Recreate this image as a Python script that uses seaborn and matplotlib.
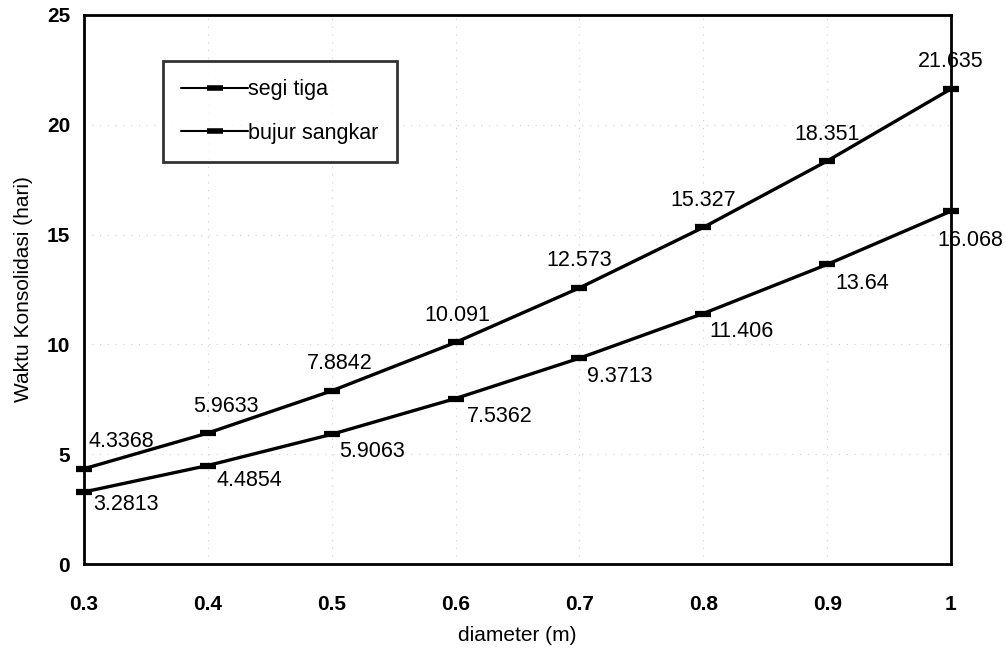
import matplotlib
matplotlib.use("Agg")
import matplotlib.pyplot as plt
import seaborn as sns
import pandas as pd

diameter = [0.3, 0.4, 0.5, 0.6, 0.7, 0.8, 0.9, 1.0]
segi_tiga = [4.3368, 5.9633, 7.8842, 10.091, 12.573, 15.327, 18.351, 21.635]
bujur_sangkar = [3.2813, 4.4854, 5.9063, 7.5362, 9.3713, 11.406, 13.64, 16.068]
segi_labels = ["4.3368", "5.9633", "7.8842", "10.091", "12.573", "15.327", "18.351", "21.635"]
bujur_labels = ["3.2813", "4.4854", "5.9063", "7.5362", "9.3713", "11.406", "13.64", "16.068"]
x_tick_labels = ["0.3", "0.4", "0.5", "0.6", "0.7", "0.8", "0.9", "1"]
y_ticks = [0, 5, 10, 15, 20, 25]

sns.set_theme(style="white")
plt.rcParams["font.family"] = ["Liberation Sans", "DejaVu Sans"]
plt.rcParams["text.color"] = "black"
plt.rcParams["axes.labelcolor"] = "black"

df = pd.DataFrame({
    "diameter": diameter * 2,
    "waktu": segi_tiga + bujur_sangkar,
    "seri": ["segi tiga"] * len(diameter) + ["bujur sangkar"] * len(diameter),
})

fig = plt.figure(figsize=(10.06, 6.5), dpi=100)
ax = fig.add_axes([84 / 1006, 1 - 564 / 650, 867 / 1006, 549 / 650])

sns.lineplot(data=df, x="diameter", y="waktu", hue="seri",
             palette={"segi tiga": "black", "bujur sangkar": "black"},
             linewidth=2.4, marker="_", markersize=12, markeredgewidth=4.5,
             markeredgecolor="black", ax=ax, clip_on=False, legend=True)

ax.set_xlim(0.3, 1.0)
ax.set_ylim(0, 25)
ax.set_xticks(diameter)
ax.set_xticklabels(x_tick_labels)
ax.set_yticks(y_ticks)
ax.set_yticklabels([str(v) for v in y_ticks])
for lab in ax.get_xticklabels() + ax.get_yticklabels():
    lab.set_fontweight("bold")
    lab.set_fontsize(15)
    lab.set_color("black")
ax.tick_params(axis="x", direction="inout", length=12, width=1.5, pad=16, colors="black")
ax.tick_params(axis="y", direction="out", length=6, width=1.5, pad=4, colors="black")

for s in ax.spines.values():
    s.set_color("black")
    s.set_linewidth(2.0)

ax.grid(True, color="#d0d0d0", linestyle=(0, (1, 6)), linewidth=0.8)
ax.set_axisbelow(True)

ax.set_xlabel("diameter (m)", fontsize=15, labelpad=9, color="black")
ax.set_ylabel("Waktu Konsolidasi (hari)", fontsize=15, labelpad=10, color="black")

segi_dx = [37, 18, 8, 2, 0, 0, 0, 0]
for xv, yv, t, dx in zip(diameter, segi_tiga, segi_labels, segi_dx):
    ax.annotate(t, (xv, yv), xytext=(dx, 27), textcoords="offset pixels",
                ha="center", va="center", fontsize=15.5, color="black")
bujur_dx = [42, 42, 40, 44, 40, 38, 35, 19]
bujur_dy = [-13, -15, -17, -18, -18, -18, -19, -29]
for xv, yv, t, dx, dy in zip(diameter, bujur_sangkar, bujur_labels, bujur_dx, bujur_dy):
    ax.annotate(t, (xv, yv), xytext=(dx, dy), textcoords="offset pixels",
                ha="center", va="center", fontsize=15.5, color="black")

leg = ax.legend(loc="upper left", bbox_to_anchor=(0.091, 0.916), frameon=True,
                fancybox=False, edgecolor="black", fontsize=15.5,
                handlelength=3.1, handletextpad=0.0, labelspacing=1.05,
                borderpad=0.85, borderaxespad=0)
leg.get_frame().set_linewidth(2.0)
leg.get_frame().set_boxstyle("square", pad=0)
for txt in leg.get_texts():
    txt.set_color("black")
for h in leg.get_lines():
    h.set_linewidth(1.5)
    h.set_markersize(11)
    h.set_markeredgewidth(4)

fig.savefig("out.png", dpi=100)
